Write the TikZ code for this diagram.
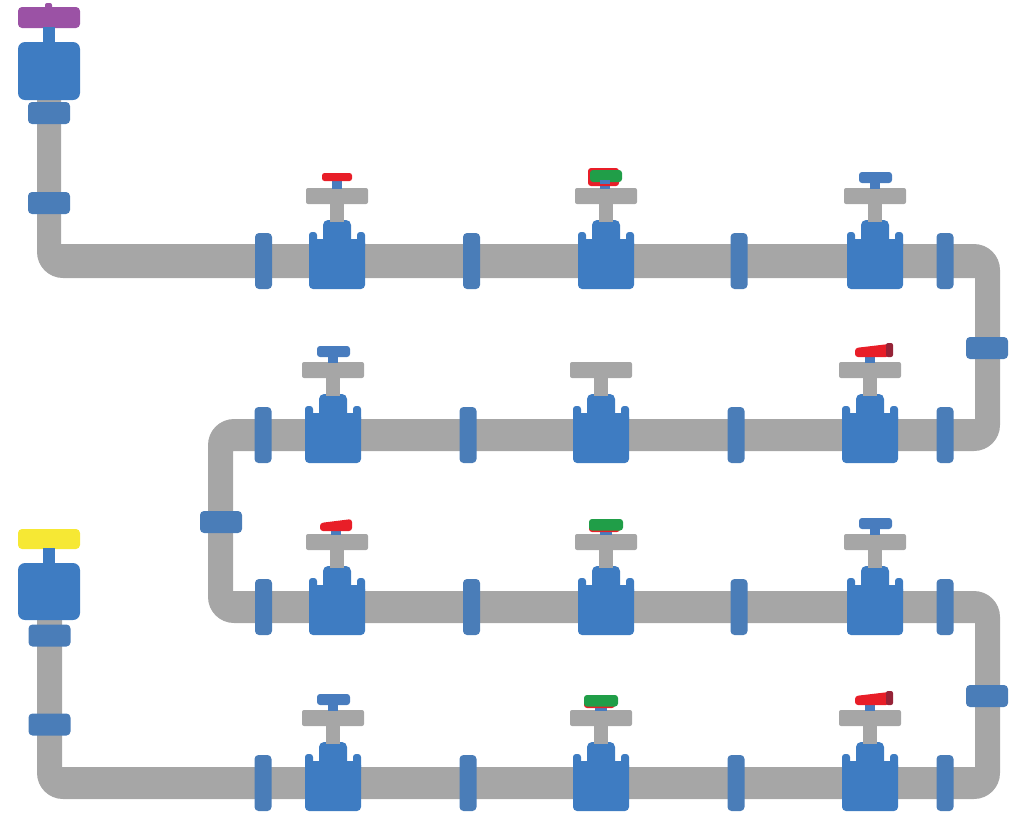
\documentclass[tikz,border=0pt]{standalone}
\begin{document}
\begin{tikzpicture}[x=1pt,y=-1pt]
% colours
\definecolor{pipegrey}{RGB}{166,166,166}
\definecolor{valveblue}{RGB}{62,124,194}
\definecolor{flangeblue}{RGB}{74,125,184}
\definecolor{capred}{RGB}{232,30,40}
\definecolor{capdark}{RGB}{150,35,55}
\definecolor{capgreen}{RGB}{32,158,72}
\definecolor{capblue}{RGB}{72,124,190}
\definecolor{handlepurple}{RGB}{155,82,165}
\definecolor{handleyellow}{RGB}{246,232,52}
\tikzset{
  pipe/.style={fill=pipegrey},
  % flange on a horizontal run
  hflange/.pic={\fill[flangeblue,rounded corners=4] (-8.5,-28) rectangle (8.5,28);},
  % flange on a vertical run
  vflange/.pic={\fill[flangeblue,rounded corners=4] (-21,-11) rectangle (21,11);},
  % gate valve body, stem and cross handle
  gatevalve/.pic={
    \fill[valveblue,rounded corners=4] (-28,-22) rectangle (28,28);
    \fill[valveblue,rounded corners=3] (-28,-29) rectangle (-20,-12);
    \fill[valveblue,rounded corners=3] (20,-29) rectangle (28,-12);
    \fill[valveblue,rounded corners=5] (-14,-41) rectangle (14,-15);
    \fill[pipegrey] (-7,-58) rectangle (7,-39);
    \fill[pipegrey,rounded corners=2] (-31,-73) rectangle (31,-57);
  },
  % caps on top of the handle
  bluecap/.pic={
    \fill[capblue] (-5,-80) rectangle (5,-72);
    \fill[capblue,rounded corners=3] (-16,-89) rectangle (17,-78);
  },
  redflat/.pic={
    \fill[capblue] (-5,-81) rectangle (5,-72);
    \fill[capred,rounded corners=2.5] (-15,-88) rectangle (15,-80);
  },
  greencap/.pic={
    \fill[capblue] (-6,-77) rectangle (6,-72);
    \fill[capred,rounded corners=3] (-17,-84) rectangle (14,-75);
    \fill[capgreen,rounded corners=3] (-17,-88) rectangle (17,-76.5);
  },
  greenoverred/.pic={
    \fill[capblue] (-6,-79) rectangle (4,-72);
    \fill[capred,rounded corners=3] (-18,-93) rectangle (13,-75);
    \fill[capgreen,rounded corners=3] (-16,-91) rectangle (16,-79);
    \fill[capblue] (-6,-81) rectangle (4,-77);
  },
  redtilt/.pic={
    \fill[capblue] (-5,-79) rectangle (5,-72);
    \fill[capred,rounded corners=3] (-16,-76) -- (-16,-84) -- (16,-88) -- (16,-76) -- cycle;
  },
  redtiltdark/.pic={
    \fill[capblue] (-5,-80) rectangle (5,-72);
    \fill[capred,rounded corners=3] (-15,-78) -- (-15,-87) -- (19,-91) -- (19,-78) -- cycle;
    \fill[capdark,rounded corners=2] (16,-92) rectangle (23,-78);
  },
}
\useasboundingbox (0,0) rectangle (1017,812);

% serpentine pipe run
\fill[pipe] (37,95) -- (37,252) arc[start angle=180,end angle=90,radius=26]
  -- (975,278) -- (975,419) -- (234,419) arc[start angle=270,end angle=180,radius=26]
  -- (208,597) arc[start angle=180,end angle=90,radius=26]
  -- (975,623) -- (975,767) -- (62,767) -- (62,615) -- (37,615)
  -- (37,773) arc[start angle=180,end angle=90,radius=26]
  -- (974,799) arc[start angle=90,end angle=0,radius=26]
  -- (1000,617) arc[start angle=0,end angle=-90,radius=26]
  -- (233,591) -- (233,451)
  -- (974,451) arc[start angle=90,end angle=0,radius=26]
  -- (1000,270) arc[start angle=0,end angle=-90,radius=26]
  -- (61,244) -- (61,95) -- cycle;

% inlet valve (purple handle)
\fill[handlepurple,rounded corners=4] (18,7) rectangle (80,28);
\fill[handlepurple,rounded corners=2] (45,3) rectangle (52,10);
\fill[valveblue] (43,27) rectangle (55,43);
\fill[valveblue,rounded corners=7] (18,42) rectangle (80,100);

% outlet valve (yellow handle)
\fill[handleyellow,rounded corners=4] (18,529) rectangle (80,549);
\fill[valveblue] (43,548) rectangle (55,564);
\fill[valveblue,rounded corners=7] (18,563) rectangle (80,620);

% flanges on the vertical runs
\foreach \p in {(49,113),(49,203),(987,348),(221,522),(987,696),(49.5,635.5),(49.5,724.5)}
  \pic at \p {vflange};

% flanges on the horizontal runs
\foreach \x in {263.5,471.5,739,945} {
  \pic at (\x,261) {hflange};
  \pic at (\x,607) {hflange};
}
\foreach \x in {263,468,736,945} {
  \pic at (\x,435) {hflange};
  \pic at (\x,783) {hflange};
}

% gate valves
\foreach \x in {337,606,875} {
  \pic at (\x,261) {gatevalve};
  \pic at (\x,607) {gatevalve};
}
\foreach \x in {333,601,870} {
  \pic at (\x,435) {gatevalve};
  \pic at (\x,783) {gatevalve};
}

% handle caps
\pic at (337,261) {redflat};
\pic at (606,261) {greenoverred};
\pic at (875,261) {bluecap};
\pic at (333,435) {bluecap};
\pic at (870,435) {redtiltdark};
\pic at (336,607) {redtilt};
\pic at (606,607) {greencap};
\pic at (875,607) {bluecap};
\pic at (333,783) {bluecap};
\pic at (601,783) {greencap};
\pic at (870,783) {redtiltdark};
\end{tikzpicture}
\end{document}
